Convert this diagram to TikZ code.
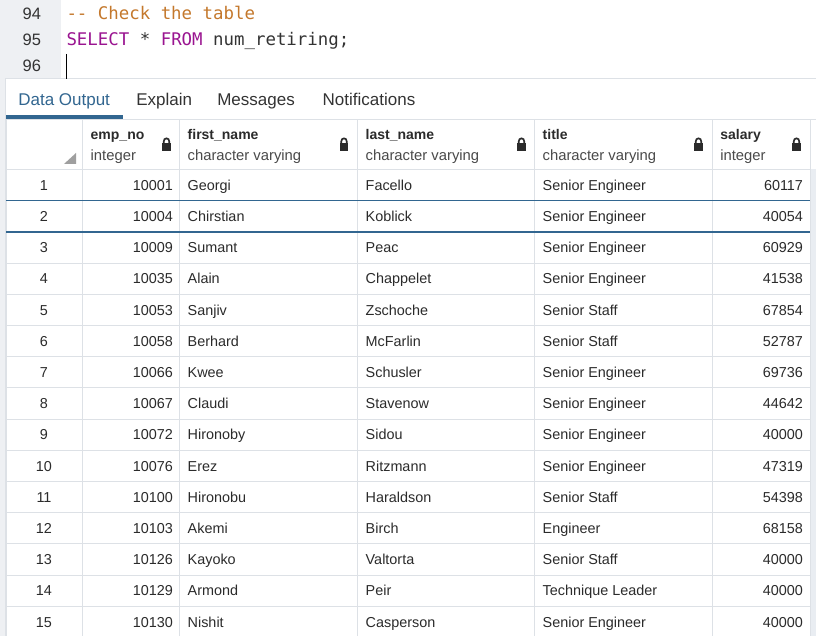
\documentclass[tikz,border=0pt]{standalone}
\usepackage{fontspec}
\setmainfont{Liberation Sans}
\newfontfamily\codefont{DejaVu Sans Mono}
\definecolor{gutter}{HTML}{EEF0F3}
\definecolor{gridc}{HTML}{DDE1E6}
\definecolor{blueacc}{HTML}{326690}
\definecolor{txt}{HTML}{2B2B2B}
\definecolor{typetxt}{HTML}{4A4A4A}
\definecolor{scrollc}{HTML}{E9EDF2}
\definecolor{cmt}{HTML}{C4782C}
\definecolor{kw}{HTML}{9A1490}
\definecolor{codetxt}{HTML}{333333}
\begin{document}
\begin{tikzpicture}[x=1pt,y=-1pt,
  every node/.style={inner sep=0pt,outer sep=0pt},
  lineno/.style={font=\fontsize{16.5}{19}\selectfont,text=codetxt,anchor=base east},
  code/.style={font=\codefont\fontsize{17.4}{20}\selectfont,text=codetxt,anchor=base west},
  tab/.style={font=\fontsize{17}{20}\selectfont,text=codetxt,anchor=base west},
  hname/.style={font=\bfseries\fontsize{14}{17}\selectfont,text=txt,anchor=base west},
  htype/.style={font=\fontsize{14.8}{17}\selectfont,text=typetxt,anchor=base west},
  cellL/.style={font=\fontsize{14.4}{17}\selectfont,text=txt,anchor=base west},
  cellR/.style={font=\fontsize{14.4}{17}\selectfont,text=txt,anchor=base east},
  cellC/.style={font=\fontsize{14.4}{17}\selectfont,text=txt,anchor=base},
  gridline/.style={draw=gridc,line width=1pt},
  lockbody/.style={fill=txt,draw=none},
  lockshackle/.style={draw=txt,line width=1.7pt}]
\useasboundingbox (0,0) rectangle (816,636);
\fill[white] (0,0) rectangle (816,636);
% editor gutter and left strip
\fill[gutter] (0,0) rectangle (61,79);
\fill[gutter] (0,79) rectangle (5,636);
\draw[gridline] (5,79) -- (5,636);
\draw[gridline] (5,79) -- (816,79);
% line numbers
\node[lineno] (l94) at (41,20) {94};
\node[lineno] (l95) at (41,46) {95};
\node[lineno] (l96) at (41,72) {96};
% code
\node[code] (c94) at (66.5,20) {\textcolor{cmt}{-- Check the table}};
\node[code] (c95) at (66.5,46) {\textcolor{kw}{SELECT} * \textcolor{kw}{FROM} num\_retiring;};
\coordinate (curtop) at (66.5,54);
\coordinate (curbot) at (66.5,79);
\draw[black,line width=1pt] (curtop) -- (curbot);
% tabs
\node[tab,text=blueacc] (t1) at (18.3,106) {Data Output};
\node[tab] (t2) at (136.3,106) {Explain};
\node[tab] (t3) at (217.3,106) {Messages};
\node[tab] (t4) at (322.7,106) {Notifications};
\fill[blueacc] (6,115.5) rectangle (123,119);
% scroll area
\fill[scrollc] (810,169.5) rectangle (816,636);
% grid
\draw[gridline] (6,119.5) -- (816,119.5);
\foreach \k in {0,...,15}{
  \pgfmathsetmacro{\yy}{169.5+\k*31.2}
  \draw[gridline] (6,\yy) -- (810,\yy);
}
\foreach \xx in {6,82,179,357,534,712,810}{
  \draw[gridline] (\xx,119.5) -- (\xx,636);
}
% selected row borders
\draw[blueacc,line width=1.4pt] (6,200.7) -- (810,200.7);
\draw[blueacc,line width=1.4pt] (6,231.9) -- (810,231.9);
% sort triangle
\fill[gray!75] (76,153) -- (76,164) -- (64,164) -- cycle;
% header
\node[hname] (h1) at (90.7,140) {emp\_no};
\node[htype] (h1t) at (90.7,160.5) {integer};
\node[hname] (h2) at (187.7,140) {first\_name};
\node[htype] (h2t) at (187.7,160.5) {character varying};
\node[hname] (h3) at (365.7,140) {last\_name};
\node[htype] (h3t) at (365.7,160.5) {character varying};
\node[hname] (h4) at (542.7,140) {title};
\node[htype] (h4t) at (542.7,160.5) {character varying};
\node[hname] (h5) at (720.3,140) {salary};
\node[htype] (h5t) at (720.3,160.5) {integer};
% locks
\foreach \cx in {166.5,344,521.5,698.5,796.5}{
  \fill[lockbody] (\cx-4.4,143) rectangle (\cx+4.4,151);
  \draw[lockshackle] (\cx-2.8,143.5) -- (\cx-2.8,141.6) .. controls (\cx-2.8,137.3) and (\cx+2.8,137.3) .. (\cx+2.8,141.6) -- (\cx+2.8,143.5);
}
% rows
\foreach \n/\id/\fn/\ln/\ti/\sa in {
  1/10001/Georgi/Facello/Senior Engineer/60117,
  2/10004/Chirstian/Koblick/Senior Engineer/40054,
  3/10009/Sumant/Peac/Senior Engineer/60929,
  4/10035/Alain/Chappelet/Senior Engineer/41538,
  5/10053/Sanjiv/Zschoche/Senior Staff/67854,
  6/10058/Berhard/McFarlin/Senior Staff/52787,
  7/10066/Kwee/Schusler/Senior Engineer/69736,
  8/10067/Claudi/Stavenow/Senior Engineer/44642,
  9/10072/Hironoby/Sidou/Senior Engineer/40000,
  10/10076/Erez/Ritzmann/Senior Engineer/47319,
  11/10100/Hironobu/Haraldson/Senior Staff/54398,
  12/10103/Akemi/Birch/Engineer/68158,
  13/10126/Kayoko/Valtorta/Senior Staff/40000,
  14/10129/Armond/Peir/Technique Leader/40000,
  15/10130/Nishit/Casperson/Senior Engineer/40000}{
  \pgfmathsetmacro{\yb}{169.5+(\n-0.5)*31.2+5.2}
  \node[cellC] (num\n) at (44,\yb) {\n};
  \node[cellR] (id\n) at (173,\yb) {\id};
  \node[cellL] (fn\n) at (187.7,\yb) {\fn};
  \node[cellL] (ln\n) at (365.7,\yb) {\ln};
  \node[cellL] (ti\n) at (542.7,\yb) {\ti};
  \node[cellR] (sa\n) at (803,\yb) {\sa};
}
\end{tikzpicture}
\end{document}
